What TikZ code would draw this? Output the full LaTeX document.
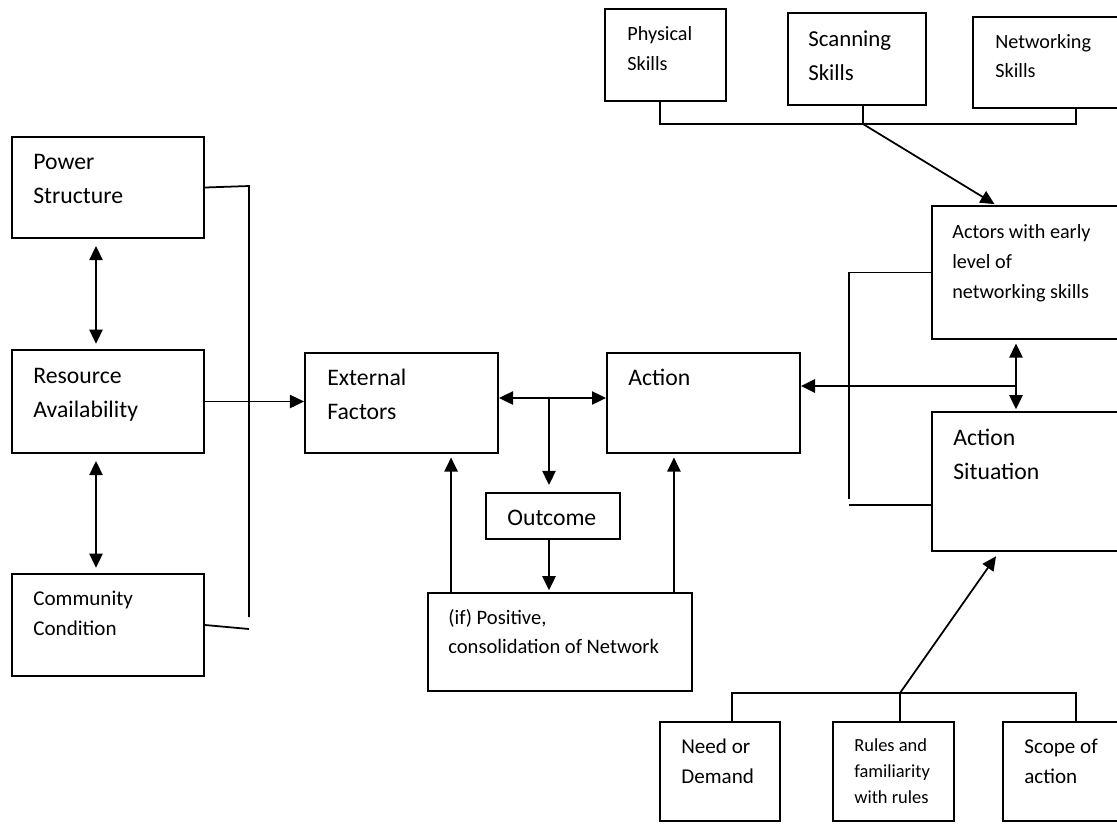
\documentclass[tikz,border=0pt]{standalone}
\usepackage{fontspec}
\setmainfont{Carlito}
\usetikzlibrary{arrows.meta,calc,positioning}

\begin{document}
\begin{tikzpicture}[x=0.02cm, y=-0.02cm, >={Triangle[length=8pt,width=7.5pt]}]
	\tikzstyle{every node}=[font=\small]
	\tikzstyle{box}=[draw, line width=1.1pt, rectangle, inner sep=0pt]
	\tikzstyle{big}=[inner sep=0pt, align=left, anchor=base west, font=\fontsize{13.5}{18.8}\selectfont]
	\tikzstyle{med}=[big, font=\fontsize{12}{17}\selectfont]
	\tikzstyle{small}=[big, font=\fontsize{11.5}{17}\selectfont]
	\tikzstyle{tiny}=[big, font=\fontsize{10.5}{14.8}\selectfont]
	\tikzstyle{link}=[line width=1pt]
	\clip (0,0) rectangle (1117,823);
	% left column (texts sit on the baseline of their last line)
	\node[box, minimum width=3.84cm, minimum height=2.02cm] (power) at (108,187.5) {};
	\node[box, minimum width=3.84cm, minimum height=2.06cm] (resource) at (108,401.5) {};
	\node[box, minimum width=3.84cm, minimum height=2.04cm] (community) at (108,625) {};
	\node[big] (power-t) at (33,203) {Power\\Structure};
	\node[big] (resource-t) at (33,417) {Resource\\Availability};
	\node[med] (community-t) at (33,635) {Community\\Condition};
	% middle
	\node[box, minimum width=3.86cm, minimum height=2cm] (external) at (401.5,403) {};
	\node[box, minimum width=3.86cm, minimum height=2cm] (action) at (703.5,403) {};
	\node[box, minimum width=2.68cm, minimum height=0.92cm] (outcome) at (553,516) {};
	\node[box, minimum width=5.28cm, minimum height=1.96cm] (positive) at (560,642) {};
	\node[big] (external-t) at (327,419) {External\\Factors};
	\node[big] (action-t) at (628,385) {Action};
	\node[big] (outcome-t) at (507,525) {Outcome};
	\node[med, font=\fontsize{11.7}{16}\selectfont] (positive-t) at (448,653) {(if) Positive,\\consolidation of Network};
	% skills on top
	\node[box, minimum width=2.42cm, minimum height=1.84cm] (physical) at (665.5,55) {};
	\node[box, minimum width=2.76cm, minimum height=1.84cm] (scanning) at (857,59) {};
	\node[box, minimum width=4.12cm, minimum height=1.82cm] (networking) at (1076,62.5) {};
	\node[small] (physical-t) at (627,70) {Physical\\Skills};
	\node[big, font=\fontsize{13}{19.3}\selectfont] (scanning-t) at (808,80) {Scanning\\Skills};
	\node[small, font=\fontsize{11.5}{16.5}\selectfont] (networking-t) at (995,77) {Networking\\Skills};
	% right column
	\node[box, minimum width=4.56cm, minimum height=2.66cm] (actors) at (1046,272.5) {};
	\node[box, minimum width=4.56cm, minimum height=2.78cm] (situation) at (1046,481.5) {};
	\node[small] (actors-t) at (952,298) {Actors with early\\level of\\networking skills};
	\node[big] (situation-t) at (953,479) {Action\\Situation};
	% bottom row
	\node[box, minimum width=2.4cm, minimum height=1.98cm] (need) at (720,771.5) {};
	\node[box, minimum width=2.42cm, minimum height=1.98cm] (rules) at (893.5,771.5) {};
	\node[box, minimum width=2.92cm, minimum height=1.98cm] (scope) at (1076,771.5) {};
	\node[med] (need-t) at (681,783) {Need or\\Demand};
	\node[tiny] (rules-t) at (854,803) {Rules and\\familiarity\\with rules};
	\node[med] (scope-t) at (1024,783) {Scope of\\action};

	% left links
	\coordinate (bar-top) at (249,186);
	\coordinate (bar-bot) at (249,617);
	\coordinate (bar-end) at (249,629);
	\coordinate (ps-arr) at ($(power.south)+(-12,0)$);
	\coordinate (rs-arr) at ($(resource.south)+(-12,0)$);
	\draw[link, <->, shorten <=4pt, shorten >=3pt] (ps-arr) -- (ps-arr |- resource.north);
	\draw[link, <->, shorten <=4pt, shorten >=3pt] (rs-arr) -- (rs-arr |- community.north);
	\draw[link] (power.east) -- (bar-top) -- (bar-bot);
	\draw[link] (community.east) -- (bar-end);
	\draw[link, ->] (resource.east) -- (resource.east -| external.west);
	% middle links
	\coordinate (fork) at (549,398);
	\coordinate (p-left) at ($(positive.north west)+(24,0)$);
	\coordinate (p-right) at ($(positive.north east)+(-19,0)$);
	\draw[link, <->] (external.east |- fork) -- (action.west |- fork);
	\draw[link, ->, shorten >=4pt] (fork) -- (fork |- outcome.north);
	\draw[link, ->, shorten >=1pt] (fork |- outcome.south) -- (fork |- positive.north);
	\draw[link, ->, shorten >=2pt] (p-left) -- (p-left |- external.south);
	\draw[link, ->, shorten >=2pt] (p-right) -- (p-right |- action.south);
	% skills links
	\coordinate (skills-bus) at (863,124);
	\coordinate (actors-in) at ($(actors.north west)+(65,0)$);
	\draw[link] (physical.south -| 660,0) |- (skills-bus) -| (networking.south);
	\draw[link] (scanning.south -| skills-bus) -- (skills-bus);
	\draw[link, ->, shorten >=1pt] (skills-bus) -- (actors-in);
	% right links
	\coordinate (join) at (1016,386);
	\coordinate (loop-bot) at (849,499);
	\coordinate (loop-end) at (849,505);
	\draw[link, <->, shorten <=2pt, shorten >=1pt] (join |- actors.south) -- (join |- situation.north);
	\draw[link, ->, line width=1.3pt] (join) -- (join -| action.east);
	\draw[link] (actors.west) -| (loop-bot);
	\draw[link] (loop-end) -- (loop-end -| situation.west);
	% bottom links
	\coordinate (rules-bus) at (900,693);
	\coordinate (situation-in) at ($(situation.south west)+(68,0)$);
	\draw[link] ($(need.north)+(12,0)$) |- (rules-bus) -| (scope.north);
	\draw[link] (rules.north -| rules-bus) -- (rules-bus);
	\draw[link, ->, shorten >=3pt] (rules-bus) -- (situation-in);
\end{tikzpicture}
\end{document}
